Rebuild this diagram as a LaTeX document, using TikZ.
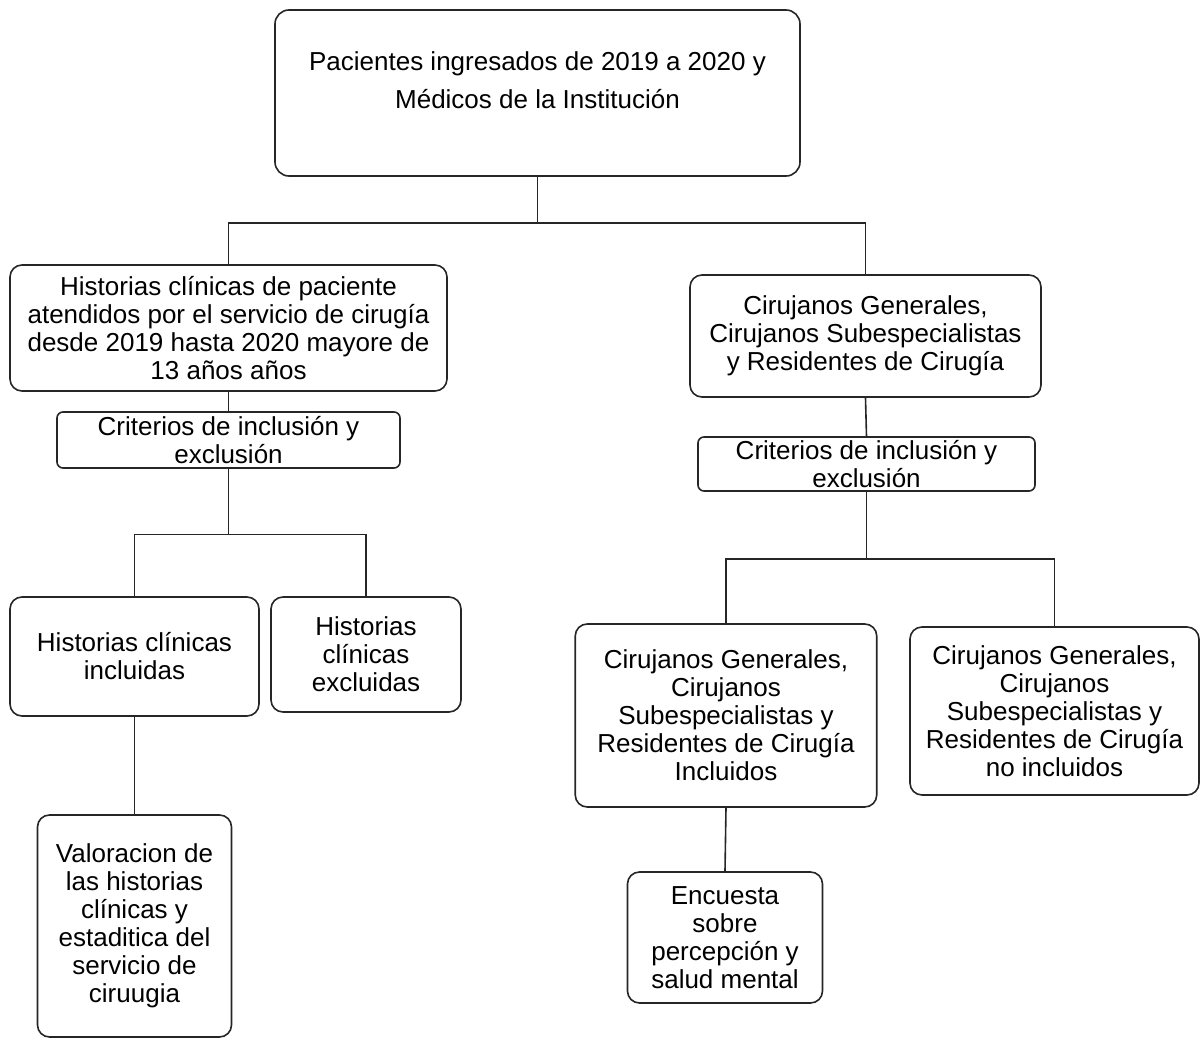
\documentclass[tikz,border=0pt]{standalone}
\usepackage{fontspec}
\setmainfont{Liberation Sans}
\usepackage{tikz}
\usetikzlibrary{positioning}

\begin{document}
\begin{tikzpicture}[
    x=0.5pt, y=-0.5pt,%one unit = one pixel of the page, y downwards
    font=\fontsize{13}{14}\selectfont,
    stage/.style={
        rectangle, % shape
        rounded corners=6pt,
        draw=black!85, %border
        line width=0.8pt,
        align=center, %text
        inner sep=1pt
      },
    criteria/.style={
        % The shape:
        stage,
        rounded corners=3pt,
        % tight text
        inner ysep=0pt},
    link/.style={draw=black!85, line width=0.8pt}
  ]
  \useasboundingbox (0,0) rectangle (1201,1039);
  % top
  \node (origin) [stage, rounded corners=7pt, minimum width=262.5pt, minimum height=83pt, text depth=13pt] at (537.5,93)
    {Pacientes ingresados de 2019 a 2020 y\\[5pt] Médicos de la Institución};
  % left branch
  \node (charts) [stage, minimum width=218.5pt, minimum height=63pt] at (228.5,328)
    {Historias clínicas de paciente\\ atendidos por el servicio de cirugía\\ desde 2019 hasta 2020 mayore de\\ 13 años años};
  \node (critL) [criteria, minimum width=171.5pt, minimum height=28pt] at (228.5,440)
    {Criterios de inclusión y\\ exclusión};
  \node (inclL) [stage, minimum width=124.5pt, minimum height=59.5pt] at (134.5,656.5)
    {Historias clínicas\\ incluidas};
  \node (exclL) [stage, minimum width=95pt, minimum height=57.5pt] at (366,654.5)
    {Historias\\ clínicas\\ excluidas};
  \node (review) [stage, minimum width=97pt, minimum height=111pt] at (134.5,926)
    {Valoracion de\\ las historias\\ clínicas y\\ estaditica del\\ servicio de\\ ciruugia};
  % right branch
  \node (staff) [stage, minimum width=175.5pt, minimum height=61pt] at (865.5,336)
    {Cirujanos Generales,\\ Cirujanos Subespecialistas\\ y Residentes de Cirugía};
  \node (critR) [criteria, minimum width=168.5pt, minimum height=27pt] at (866.5,464)
    {Criterios de inclusión y\\ exclusión};
  \node (inclR) [stage, minimum width=150.75pt, minimum height=91.5pt] at (726,715.5)
    {Cirujanos Generales,\\ Cirujanos\\ Subespecialistas y\\ Residentes de Cirugía\\ Incluidos};
  \node (exclR) [stage, minimum width=144.5pt, minimum height=84pt] at (1054.5,711)
    {Cirujanos Generales,\\ Cirujanos\\ Subespecialistas y\\ Residentes de Cirugía\\ no incluidos};
  \node (survey) [stage, minimum width=97.5pt, minimum height=65.5pt] at (725,937.5)
    {Encuesta\\ sobre\\ percepción y\\ salud mental};

  \path[link] (origin.south) -- ++(0,46) -| (charts.north);
  \path[link] (origin.south) -- ++(0,46) -| (staff.north);
  \path[link] (charts.south) -- (critL.north);
  \path[link] (critL.south) -- ++(0,65.5) -| (inclL.north);
  \path[link] (critL.south) -- ++(0,65.5) -| (exclL.north);
  \path[link] (inclL.south) -- (review.north);
  \path[link] (staff.south) -- (critR.north);
  \path[link] (critR.south) -- ++(0,67) -| (inclR.north);
  \path[link] (critR.south) -- ++(0,67) -| (exclR.north);
  \path[link] (inclR.south) -- (survey.north);
\end{tikzpicture}
\end{document}
